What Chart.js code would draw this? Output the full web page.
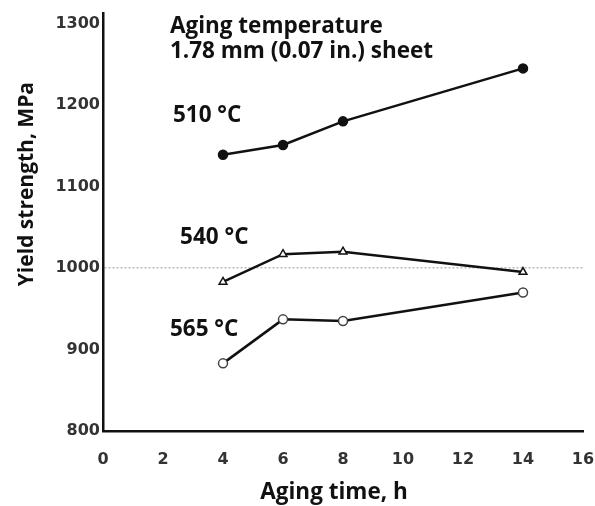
<!DOCTYPE html>
<html>
<head>
<meta charset="utf-8">
<script src="https://cdn.jsdelivr.net/npm/chart.js@4"></script>
<style>
  html, body { margin: 0; padding: 0; background: #fff; }
  canvas { display: block; }
</style>
</head>
<body>
<canvas id="agingChart" width="595" height="506"></canvas>
<script>
// aging time (h) for every curve
const agingTimes = [4, 6, 8, 14];
// yield strength, MPa
const ys510 = [1139, 1151, 1180, 1245];
const ys540 = [983, 1017, 1020, 995];
const ys565 = [883, 937, 935, 970];
const curveLabels = ['510 °C', '540 °C', '565 °C'];
const xTicks = [0, 2, 4, 6, 8, 10, 12, 14, 16];
const yTicks = [800, 900, 1000, 1100, 1200, 1300];

function toPoints(vals) {
    return agingTimes.map(function(t, i) { return { x: t, y: vals[i] }; });
}

const textFont = '"Open Sans", "Liberation Sans", sans-serif';

// text notes drawn on the plot (left edge, baseline), in data units
const notes = [
    { text: 'Aging temperature', x: 2.23, y: 1289 },
    { text: '1.78 mm (0.07 in.) sheet', x: 2.23, y: 1258 },
    { text: curveLabels[0], x: 2.33, y: 1179 },
    { text: curveLabels[1], x: 2.57, y: 1030 },
    { text: curveLabels[2], x: 2.23, y: 917 }
];

const notesPlugin = {
    id: 'notes',
    afterDatasetsDraw(chart) {
        const c = chart.ctx;
        const xs = chart.scales.x, ys = chart.scales.y;
        c.save();
        c.fillStyle = '#111';
        c.font = 'bold 22.5px ' + textFont;
        c.textAlign = 'left';
        c.textBaseline = 'alphabetic';
        notes.forEach(function(n) {
            c.fillText(n.text, xs.getPixelForValue(n.x), ys.getPixelForValue(n.y));
        });
        // axis titles
        c.textAlign = 'center';
        c.fillText('Aging time, h', xs.getPixelForValue(7.7), chart.height - 7);
        c.translate(33, ys.getPixelForValue(1103));
        c.rotate(-Math.PI / 2);
        c.font = 'bold 21px ' + textFont;
        c.fillText('Yield strength, MPa', 0, 0);
        c.restore();
    }
};

const lineStyle = {
    borderColor: '#111',
    borderWidth: 2.5,
    pointBorderColor: '#111',
    pointBorderWidth: 1.5,
    tension: 0,
    fill: false
};

const tickFont = { family: '"DejaVu Sans", sans-serif', size: 16, weight: 'bold' };

new Chart(document.getElementById('agingChart'), {
    type: 'line',
    data: {
        datasets: [
            Object.assign({}, lineStyle, {
                label: curveLabels[0],
                data: toPoints(ys510),
                pointStyle: 'circle',
                pointRadius: 4.5,
                pointBackgroundColor: '#111'
            }),
            Object.assign({}, lineStyle, {
                label: curveLabels[1],
                data: toPoints(ys540),
                pointStyle: 'triangle',
                pointRadius: 4.5,
                pointBackgroundColor: '#fff'
            }),
            Object.assign({}, lineStyle, {
                label: curveLabels[2],
                data: toPoints(ys565),
                pointStyle: 'circle',
                pointRadius: 4.5,
                pointBorderColor: '#444',
                pointBackgroundColor: '#fff'
            })
        ]
    },
    options: {
        responsive: false,
        animation: false,
        layout: { padding: { top: 13, right: 12, bottom: 0, left: 0 } },
        plugins: {
            legend: { display: false },
            tooltip: { enabled: false }
        },
        scales: {
            x: {
                type: 'linear',
                min: 0,
                max: 16,
                afterBuildTicks: function(s) { s.ticks = xTicks.map(function(v) { return { value: v }; }); },
                afterFit: function(s) { s.height = 75; s.paddingLeft = 0; s.paddingRight = 0; },
                grid: { display: false, drawTicks: false },
                border: { color: '#111', width: 2.5 },
                ticks: {
                    autoSkip: false,
                    maxRotation: 0,
                    padding: 19,
                    color: '#333',
                    font: tickFont,
                    callback: function(v) { return String(v); }
                }
            },
            y: {
                min: 800,
                max: 1313,
                afterBuildTicks: function(s) { s.ticks = yTicks.map(function(v) { return { value: v }; }); },
                afterFit: function(s) { s.width = 103; s.paddingTop = 0; s.paddingBottom = 0; },
                grid: {
                    drawTicks: false,
                    color: function(ctx) { return ctx.tick && ctx.tick.value === 1000 ? '#bbb' : 'rgba(0,0,0,0)'; },
                    lineWidth: 1.5
                },
                border: { color: '#111', width: 2.5, dash: [2, 2] },
                ticks: {
                    autoSkip: false,
                    padding: 3,
                    color: '#333',
                    font: tickFont,
                    callback: function(v) { return String(v); }
                }
            }
        }
    },
    plugins: [notesPlugin]
});
</script>
</body>
</html>
